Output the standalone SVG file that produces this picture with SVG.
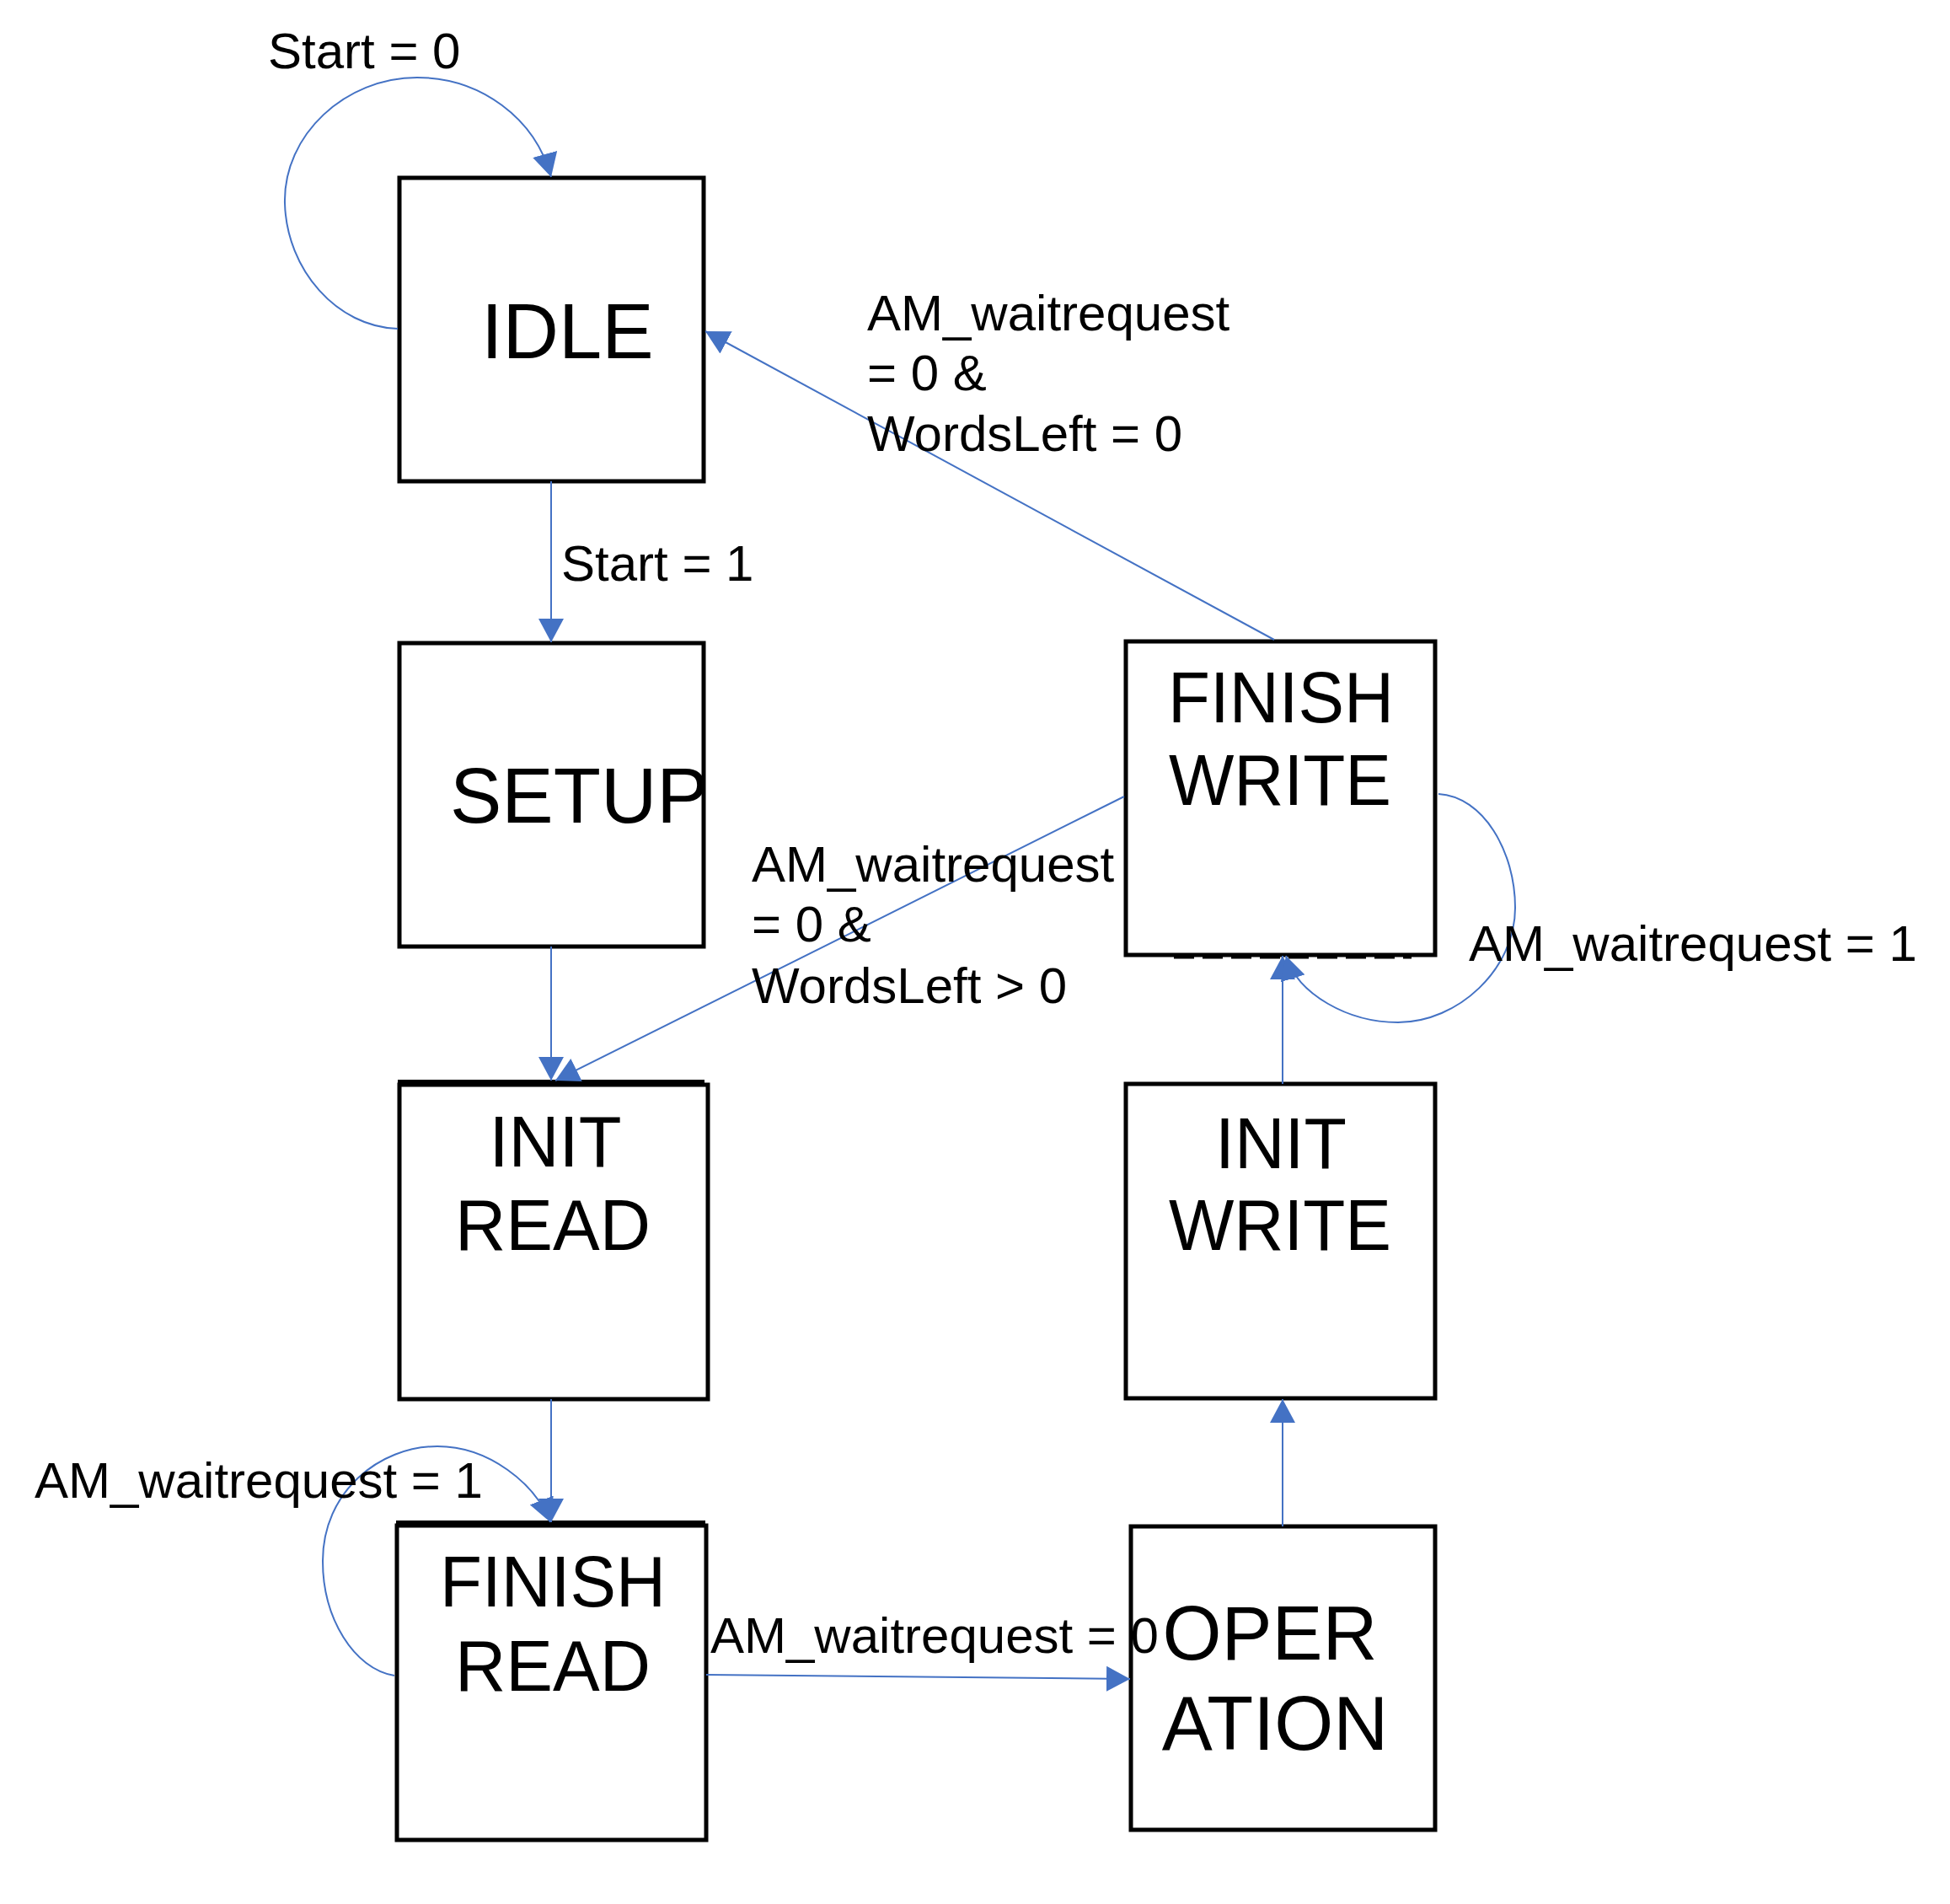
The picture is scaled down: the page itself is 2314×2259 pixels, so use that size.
<svg xmlns="http://www.w3.org/2000/svg" width="2314" height="2259" viewBox="0 0 2314 2259">
  <style>
    .box { fill: #ffffff; stroke: #000000; stroke-width: 5; }
    .node-text { font-family: "Liberation Sans", Arial, sans-serif; fill: #000000; }
    .lbl { font-family: "Liberation Sans", Arial, sans-serif; font-size: 60px; fill: #000000; }
    .conn { fill: none; stroke: #4472C4; stroke-width: 2; marker-end: url(#arrow); }
  </style>
  <defs>
    <marker id="arrow" markerUnits="userSpaceOnUse" markerWidth="30" markerHeight="30" refX="28" refY="15" orient="auto" viewBox="0 0 30 30">
      <path d="M0,0 L28,15 L0,30 Z" fill="#4472C4"/>
    </marker>
  </defs>
  <rect width="2314" height="2259" fill="#ffffff"/>

  <g id="idle">
    <rect class="box" x="474" y="211" width="361" height="360"/>
    <text class="node-text" x="571" y="425" font-size="92">IDLE</text>
  </g>

  <g id="setup">
    <rect class="box" x="474" y="763" width="361" height="360"/>
    <text class="node-text" x="534" y="976" font-size="92">SETUP</text>
  </g>

  <g id="init-read">
    <rect class="box" x="474" y="1287" width="366" height="373"/>
    <line x1="472" y1="1283" x2="836" y2="1283" stroke="#000" stroke-width="4"/>
    <text class="node-text" x="659" y="1384" font-size="86" text-anchor="middle" textLength="157" lengthAdjust="spacingAndGlyphs">INIT</text>
    <text class="node-text" x="656" y="1483" font-size="86" text-anchor="middle" textLength="232" lengthAdjust="spacingAndGlyphs">READ</text>
  </g>

  <g id="finish-read">
    <rect class="box" x="471" y="1810" width="367" height="373"/>
    <line x1="470" y1="1806" x2="837" y2="1806" stroke="#000" stroke-width="4"/>
    <text class="node-text" x="656" y="1906" font-size="86" text-anchor="middle" textLength="268" lengthAdjust="spacingAndGlyphs">FINISH</text>
    <text class="node-text" x="656" y="2006" font-size="86" text-anchor="middle" textLength="232" lengthAdjust="spacingAndGlyphs">READ</text>
  </g>

  <g id="operation">
    <rect class="box" x="1342" y="1811" width="361" height="360"/>
    <text class="node-text" x="1507" y="1969" font-size="90" text-anchor="middle">OPER</text>
    <text class="node-text" x="1513" y="2076" font-size="90" text-anchor="middle">ATION</text>
  </g>

  <g id="init-write">
    <rect class="box" x="1336" y="1286" width="367" height="373"/>
    <text class="node-text" x="1520" y="1386" font-size="86" text-anchor="middle" textLength="156" lengthAdjust="spacingAndGlyphs">INIT</text>
    <text class="node-text" x="1519" y="1483" font-size="86" text-anchor="middle" textLength="264" lengthAdjust="spacingAndGlyphs">WRITE</text>
  </g>

  <g id="finish-write">
    <line x1="1393" y1="1136" x2="1675" y2="1136" stroke="#000" stroke-width="3" stroke-dasharray="24 10"/>
    <rect class="box" x="1336" y="761" width="367" height="372"/>
    <text class="node-text" x="1520" y="857" font-size="86" text-anchor="middle" textLength="268" lengthAdjust="spacingAndGlyphs">FINISH</text>
    <text class="node-text" x="1519" y="955" font-size="86" text-anchor="middle" textLength="264" lengthAdjust="spacingAndGlyphs">WRITE</text>
  </g>

  <g id="connectors">
    <path class="conn" d="M 472 390 C 400 388, 340 320, 338 241 C 336 160, 410 92, 495 92 C 570 92, 635 140, 654 210"/>
    <path class="conn" d="M 654 571 L 654 762"/>
    <path class="conn" d="M 654 1123 L 654 1282"/>
    <path class="conn" d="M 654 1660 L 654 1806"/>
    <path class="conn" d="M 468 1988 C 420 1980, 383 1920, 383 1852 C 383 1770, 450 1716, 519 1716 C 580 1716, 635 1760, 653 1806"/>
    <path class="conn" d="M 838 1987 L 1341 1992"/>
    <path class="conn" d="M 1522 1811 L 1522 1660"/>
    <path class="conn" d="M 1522 1286 L 1522 1134"/>
    <path class="conn" d="M 1707 942 C 1760 945, 1798 1010, 1798 1077 C 1798 1150, 1730 1213, 1659 1213 C 1600 1213, 1540 1180, 1526 1134"/>
    <path class="conn" d="M 1512 759 L 837 393"/>
    <path class="conn" d="M 1334 945 L 659 1282"/>
  </g>

  <g id="labels">
    <text class="lbl" x="318" y="81">Start = 0</text>
    <text class="lbl" x="666" y="689">Start = 1</text>
    <text class="lbl" x="1029" y="392">AM_waitrequest</text>
    <text class="lbl" x="1029" y="463">= 0 &amp;</text>
    <text class="lbl" x="1029" y="535">WordsLeft = 0</text>
    <text class="lbl" x="892" y="1046">AM_waitrequest</text>
    <text class="lbl" x="892" y="1117">= 0 &amp;</text>
    <text class="lbl" x="892" y="1190">WordsLeft &gt; 0</text>
    <text class="lbl" x="1743" y="1140">AM_waitrequest = 1</text>
    <text class="lbl" x="41" y="1777">AM_waitrequest = 1</text>
    <text class="lbl" x="843" y="1961">AM_waitrequest = 0</text>
  </g>
</svg>
